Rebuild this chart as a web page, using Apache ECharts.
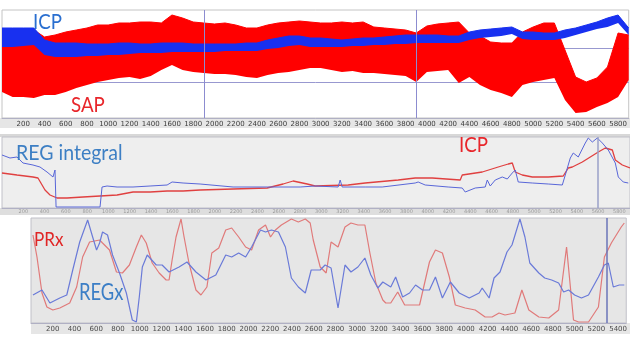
<!DOCTYPE html>
<html><head><meta charset="utf-8">
<script src="https://cdn.jsdelivr.net/npm/echarts@6/dist/echarts.min.js"></script>
<style>html,body{margin:0;padding:0;background:#fff}#c{width:630px;height:338px}</style>
</head><body><div id="c"></div>
<script>
// ---- Panel 1: SAP / ICP raw signals (envelopes, sampled every 100 s) ----
const xs1 = ['0','100','200','300','400','500','600','700','800','900',
 '1000','1100','1200','1300','1400','1500','1600','1700','1800','1900',
 '2000','2100','2200','2300','2400','2500','2600','2700','2800','2900',
 '3000','3100','3200','3300','3400','3500','3600','3700','3800','3900',
 '4000','4100','4200','4300','4400','4500','4600','4700','4800','4900',
 '5000','5100','5200','5300','5400','5500','5600','5700','5800','5900'];
const sapHigh = [88,88,88,88,81,83,86,88,90,93, 93,95,95,96,96,95,103,100,96,95, 94,95,93,90,90,93,95,96,97,96, 95,95,96,95,96,91,90,89,88,85, 92,94,95,96,85,82,76,75,75,86, 91,95,95,68,41,36,40,51,85,83];
const sapLow  = [26,21,21,20,23,23,26,30,33,36, 38,40,41,39,42,48,53,48,46,45, 44,44,43,41,40,43,45,46,48,50, 50,48,46,47,45,45,44,43,42,36, 46,47,48,35,41,33,28,25,21,33, 36,38,40,18,5,6,11,15,21,38];
const icpHigh = [90,90,90,90,78,75,75,75,74,74, 74,75,75,74,74,75,75,75,74,74, 74,74,74,75,75,78,80,82,82,80, 80,79,78,79,80,80,81,82,83,83, 83,83,82,82,86,88,89,90,91,86, 86,85,85,88,90,93,96,100,103,90];
const icpLow  = [71,71,72,73,63,61,61,61,62,62, 63,63,64,65,65,65,66,66,66,66, 66,67,67,67,67,69,70,72,73,71, 71,71,71,72,72,73,73,74,74,75, 75,75,75,75,78,80,81,82,84,79, 78,78,78,80,83,86,89,91,95,83];

// ---- Panel 2: REG integral / ICP (smoothed) ----
const icp2 = [[0,35],[141,33],[291,31],[338,30],[404,18],[451,13],[517,10],[611,10],[761,11],[921,12],[1081,13],[1231,16],[1391,16],[1551,17],[1701,17],[1861,18],[2171,19],[2491,20],[2641,24],[2735,27],[2867,24],[2942,22],[3252,23],[3412,25],[3722,28],[3882,30],[4042,30],[4305,28],[4324,33],[4512,36],[4662,41],[4756,44],[4794,45],[4822,36],[4888,33],[4982,31],[5132,31],[5273,32],[5320,40],[5358,41],[5452,46],[5602,56],[5668,60],[5734,58],[5762,48],[5828,43],[5900,40]];
const reg2 = [[0,53],[75,50],[141,51],[197,45],[291,43],[357,41],[423,36],[479,31],[498,38],[508,1],[921,1],[940,21],[987,22],[1081,21],[1231,21],[1391,22],[1551,23],[1598,26],[1701,25],[1861,24],[2171,21],[2491,21],[2801,21],[2942,22],[3158,21],[3177,28],[3196,21],[3412,21],[3572,21],[3882,25],[3910,26],[3976,23],[4192,21],[4324,20],[4352,16],[4446,20],[4540,21],[4559,28],[4587,22],[4634,28],[4700,31],[4747,29],[4794,35],[4822,38],[4850,26],[4982,25],[5132,24],[5264,23],[5292,33],[5339,50],[5367,55],[5414,51],[5480,65],[5508,70],[5546,66],[5593,70],[5640,65],[5696,58],[5762,45],[5790,31],[5837,26],[5884,25]];

// ---- Panel 3: PRx / REGx indices ----
const prx = [[18,88],[55,66],[101,30],[146,16],[201,13],[265,15],[356,20],[420,36],[475,66],[539,81],[631,83],[658,80],[722,73],[786,51],[841,50],[905,58],[969,76],[1015,88],[1060,80],[1115,60],[1179,50],[1243,43],[1270,43],[1298,63],[1334,86],[1380,104],[1408,86],[1453,60],[1517,33],[1563,28],[1618,36],[1663,70],[1727,75],[1791,93],[1846,95],[1910,86],[1974,76],[2029,73],[2093,93],[2157,98],[2203,86],[2248,93],[2303,98],[2395,104],[2459,101],[2523,104],[2568,100],[2596,83],[2660,56],[2715,50],[2760,81],[2824,76],[2888,96],[2943,100],[3007,98],[3071,98],[3117,70],[3172,40],[3236,23],[3263,20],[3309,20],[3373,31],[3437,18],[3510,18],[3574,18],[3665,61],[3720,73],[3784,70],[3848,46],[3903,18],[3994,15],[4086,13],[4177,6],[4241,6],[4305,10],[4360,8],[4451,10],[4515,33],[4579,13],[4671,6],[4762,5],[4853,13],[4926,76],[4990,3],[5036,1],[5128,1],[5219,16],[5274,66],[5338,80],[5429,96],[5457,100]];
const regx = [[18,28],[101,33],[174,20],[265,25],[329,28],[384,53],[448,81],[521,103],[567,86],[603,73],[631,80],[658,91],[704,88],[750,68],[814,50],[877,30],[932,3],[969,1],[996,26],[1024,56],[1069,68],[1152,58],[1206,58],[1270,51],[1362,56],[1435,61],[1517,51],[1609,43],[1700,48],[1791,68],[1846,66],[1910,70],[1974,66],[2029,76],[2111,93],[2157,91],[2212,93],[2276,91],[2340,76],[2395,45],[2459,36],[2523,30],[2577,53],[2660,53],[2705,58],[2760,55],[2824,15],[2888,58],[2943,51],[3007,56],[3071,65],[3126,48],[3190,35],[3236,41],[3309,36],[3354,46],[3418,26],[3482,30],[3537,38],[3601,33],[3665,33],[3720,46],[3784,25],[3857,41],[3939,30],[4031,25],[4122,30],[4150,35],[4214,25],[4259,45],[4314,51],[4378,71],[4424,78],[4497,104],[4543,86],[4588,60],[4671,50],[4725,45],[4789,43],[4853,40],[4899,31],[4945,33],[5000,28],[5063,25],[5128,28],[5219,46],[5274,58],[5310,60],[5356,36],[5411,38],[5457,38]];

const sapBand = sapHigh.map((h, i) => h - sapLow[i]);
const icpBand = icpHigh.map((h, i) => h - icpLow[i]);

const chart = echarts.init(document.getElementById('c'), null, {renderer: 'canvas'});
const lblFont = 'DejaVu Sans';
const hidden = {show: false};
const plain = v => String(v);
chart.setOption({
  animation: false,
  grid: [
    {left: 2, right: 0, top: 10, height: 108, show: true, backgroundColor: '#ffffff', borderColor: '#c4c4c4', borderWidth: 1},
    {left: 2, right: 0, top: 137, height: 71, show: true, backgroundColor: '#eeeeee', borderColor: '#c0c0c8', borderWidth: 1},
    {left: 31, right: 0, top: 218, height: 105, show: true, backgroundColor: '#e6e6e6', borderColor: '#c0c0c8', borderWidth: 1}
  ],
  xAxis: [
    {type: 'category', gridIndex: 0, data: xs1, boundaryGap: false,
     axisTick: hidden, splitLine: hidden,
     axisLine: {show: true, lineStyle: {color: '#b0b0c4', width: 1}},
     axisLabel: {interval: (i, v) => (+v) % 200 === 0 && +v > 0, fontSize: 7, color: '#3c3c3c', margin: 3, fontFamily: lblFont}},
    {type: 'value', gridIndex: 1, min: 0, max: 5900, interval: 200,
     axisTick: hidden, splitLine: hidden,
     axisLine: {show: true, lineStyle: {color: '#b0b0c4'}},
     axisLabel: {fontSize: 5, color: '#9a9a9a', margin: 1, fontFamily: lblFont, showMinLabel: false, showMaxLabel: false, formatter: plain}},
    {type: 'value', gridIndex: 2, min: 0, max: 5475, interval: 200,
     axisTick: hidden, splitLine: hidden,
     axisLine: {show: true, lineStyle: {color: '#b0b0c4'}},
     axisLabel: {fontSize: 7, color: '#4a4a4a', margin: 3, fontFamily: lblFont, showMinLabel: false, showMaxLabel: false, formatter: plain}}
  ],
  yAxis: [
    {type: 'value', gridIndex: 0, min: 0, max: 108, show: false},
    {type: 'value', gridIndex: 1, min: 0, max: 71, show: false},
    {type: 'value', gridIndex: 2, min: 0, max: 105, show: false}
  ],
  graphic: [
    {type: 'rect', z: -1, shape: {x: 0, y: 118, width: 630, height: 10}, style: {fill: '#e6e6e6'}},
    {type: 'rect', z: -1, shape: {x: 0, y: 208, width: 630, height: 7}, style: {fill: '#dedede'}},
    {type: 'rect', z: -1, shape: {x: 0, y: 134, width: 630, height: 3}, style: {fill: '#d8d8d8'}},
    {type: 'rect', z: -1, shape: {x: 31, y: 323, width: 599, height: 11}, style: {fill: '#e6e6e6'}},
    {type: 'text', z: 20, x: 33, y: 11, scaleX: 0.85, style: {text: 'ICP', fill: '#2a6fd0', font: '22px Lato', verticalAlign: 'top'}},
    {type: 'text', z: 20, x: 71, y: 94, scaleX: 0.85, style: {text: 'SAP', fill: '#e8262b', font: '22px Lato', verticalAlign: 'top'}},
    {type: 'text', z: 20, x: 16, y: 143, scaleX: 0.93, style: {text: 'REG integral', fill: '#3d7fc4', font: '21px Lato', verticalAlign: 'top'}},
    {type: 'text', z: 20, x: 459, y: 134, scaleX: 0.85, style: {text: 'ICP', fill: '#e8262b', font: '22px Lato', verticalAlign: 'top'}},
    {type: 'text', z: 20, x: 34, y: 230, scaleX: 0.9, style: {text: 'PRx', fill: '#e02525', font: '19px Lato', verticalAlign: 'top'}},
    {type: 'text', z: 20, x: 79, y: 281, scaleX: 0.8, style: {text: 'REGx', fill: '#3b7ec6', font: '23px Lato', verticalAlign: 'top'}}
  ],
  series: [
    {type: 'line', xAxisIndex: 0, yAxisIndex: 0, data: sapLow, stack: 'sap', symbol: 'none', silent: true, z: 2,
     lineStyle: {opacity: 0},
     markLine: {silent: true, symbol: 'none', z: 1, label: hidden, lineStyle: {color: '#9898d0', width: 1, type: 'solid'},
                data: [{yAxis: 70}, {yAxis: 36}]}},
    {type: 'line', xAxisIndex: 0, yAxisIndex: 0, data: sapBand, stack: 'sap', symbol: 'none', silent: true, z: 3,
     lineStyle: {color: '#ff0000', width: 1}, areaStyle: {color: '#ff0000', opacity: 1}},
    {type: 'line', xAxisIndex: 0, yAxisIndex: 0, data: icpLow, stack: 'icp', symbol: 'none', silent: true, z: 4,
     lineStyle: {opacity: 0}},
    {type: 'line', xAxisIndex: 0, yAxisIndex: 0, data: icpBand, stack: 'icp', symbol: 'none', silent: true, z: 4,
     lineStyle: {color: '#1830f0', width: 1}, areaStyle: {color: '#1830f0', opacity: 1},
     markLine: {silent: true, symbol: 'none', z: 6, label: hidden, lineStyle: {color: '#8c8cd0', width: 1, type: 'solid'},
                data: [{xAxis: '1900'}, {xAxis: '3900'}]}},
    {type: 'line', xAxisIndex: 1, yAxisIndex: 1, data: icp2, symbol: 'none', silent: true, z: 3,
     lineStyle: {color: '#e04040', width: 1.3}},
    {type: 'line', xAxisIndex: 1, yAxisIndex: 1, data: reg2, symbol: 'none', silent: true, z: 4,
     lineStyle: {color: '#5866d8', width: 1},
     markLine: {silent: true, symbol: 'none', z: 6, label: hidden, lineStyle: {color: '#9aa0c8', width: 1.5, type: 'solid'},
                data: [{xAxis: 5593}]}},
    {type: 'line', xAxisIndex: 2, yAxisIndex: 2, data: prx, symbol: 'none', silent: true, z: 3,
     lineStyle: {color: '#e07a7a', width: 1.2}},
    {type: 'line', xAxisIndex: 2, yAxisIndex: 2, data: regx, symbol: 'none', silent: true, z: 4,
     lineStyle: {color: '#6a7ad8', width: 1.2},
     markLine: {silent: true, symbol: 'none', z: 6, label: hidden, lineStyle: {color: '#6a74b8', width: 1.5, type: 'solid'},
                data: [{xAxis: 5300}]}}
  ]
});
</script></body></html>
